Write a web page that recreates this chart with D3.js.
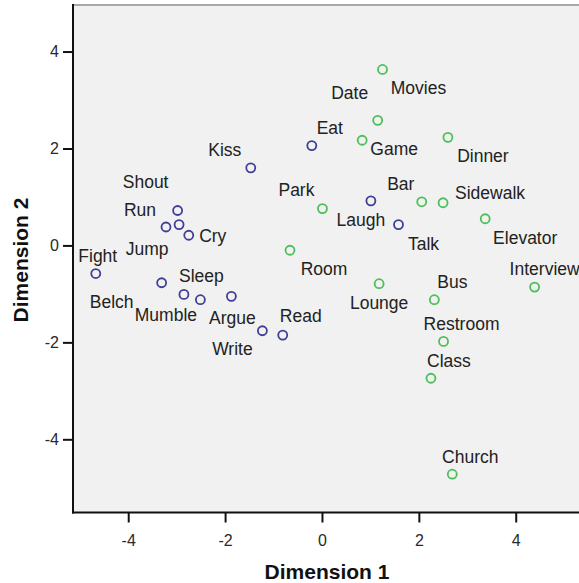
<!DOCTYPE html>
<html>
<head>
<meta charset="utf-8">
<script src="https://cdn.jsdelivr.net/npm/d3@7/dist/d3.min.js"></script>
<style>
  body { margin: 0; background: #fff; }
  svg { display: block; font-family: "Liberation Sans", Arial, sans-serif; }
</style>
</head>
<body>
<svg id="chart" width="579" height="583"></svg>
<script>
// MDS stimulus configuration, two groups of words
const actionNames = ["Kiss", "Shout", "Run", "Jump", "Cry", "Fight", "Belch", "Mumble",
  "Sleep", "Argue", "Write", "Read", "Eat", "Laugh", "Talk"];
const actionDim1 = [-1.47, -2.98, -3.22, -2.95, -2.75, -4.67, -3.31, -2.85,
  -2.51, -1.87, -1.23, -0.81, -0.21, 1.01, 1.58];
const actionDim2 = [1.60, 0.72, 0.38, 0.43, 0.21, -0.58, -0.77, -1.01,
  -1.12, -1.05, -1.76, -1.85, 2.06, 0.92, 0.43];

const placeNames = ["Movies", "Date", "Game", "Dinner", "Park", "Bar", "Sidewalk", "Elevator",
  "Room", "Lounge", "Bus", "Interview", "Restroom", "Class", "Church"];
const placeDim1 = [1.25, 1.15, 0.83, 2.60, 0.01, 2.06, 2.50, 3.37,
  -0.66, 1.18, 2.32, 4.39, 2.51, 2.25, 2.69];
const placeDim2 = [3.63, 2.58, 2.17, 2.23, 0.76, 0.90, 0.88, 0.55,
  -0.10, -0.79, -1.12, -0.86, -1.98, -2.74, -4.72];

const tickValues = [-4, -2, 0, 2, 4];

// label placement relative to each point, in pixels (like the SPSS output)
const actionLabelOffsets = [[-26, -18], [-32, -29], [-26, -17], [-32, 24], [24, 0], [2, -18],
  [-50, 19], [-18, 20], [1, -24], [1, 21], [-30, 18], [18, -19], [18, -18], [-10, 19], [25, 19]];
const placeLabelOffsets = [[36, 18], [-28, -28], [32, 8], [35, 18], [-26, -19], [-21, -18],
  [47, -10], [40, 19], [34, 18], [0, 19], [18, -18], [-25, -18], [18, -18], [18, -18], [18, -18]];

const groups = [
  { names: actionNames, d1: actionDim1, d2: actionDim2, offs: actionLabelOffsets, color: "#3f3f94" },
  { names: placeNames, d1: placeDim1, d2: placeDim2, offs: placeLabelOffsets, color: "#4cbf58" }
];

const plotLeft = 73, plotRight = 600, plotTop = 5, plotBottom = 512.5;

const x = d3.scaleLinear().domain([-5.14, 5.74]).range([plotLeft, plotRight]);
const y = d3.scaleLinear().domain([-5.51, 4.96]).range([plotBottom, plotTop]);

const svg = d3.select("#chart");

// plot background
svg.append("rect")
  .attr("x", plotLeft).attr("y", plotTop)
  .attr("width", plotRight - plotLeft).attr("height", plotBottom - plotTop)
  .attr("fill", "#f0f1f0");

// axes
const xAxis = svg.append("g")
  .attr("transform", `translate(0,${plotBottom})`)
  .call(d3.axisBottom(x).tickValues(tickValues).tickSize(10).tickPadding(12).tickFormat(d3.format("d")));
const yAxis = svg.append("g")
  .attr("transform", `translate(${plotLeft},0)`)
  .call(d3.axisLeft(y).tickValues(tickValues).tickSize(10).tickPadding(4).tickFormat(d3.format("d")));

[xAxis, yAxis].forEach(a => {
  a.select(".domain").remove();
  a.selectAll(".tick line").attr("stroke", "#111").attr("stroke-width", 2);
  a.selectAll(".tick text")
    .attr("fill", "#2a2a2a")
    .style("font-size", "16px")
    .style("font-family", "Liberation Sans, Arial, sans-serif")
    .text(d => d < 0 ? "-" + Math.abs(d) : d);
});

// frame
svg.append("line").attr("x1", plotLeft).attr("x2", 579).attr("y1", plotTop).attr("y2", plotTop)
  .attr("stroke", "#a8a8a8").attr("stroke-width", 2);
svg.append("line").attr("x1", plotLeft).attr("x2", plotLeft).attr("y1", plotTop - 1).attr("y2", plotBottom + 1)
  .attr("stroke", "#111").attr("stroke-width", 2);
svg.append("line").attr("x1", plotLeft - 1).attr("x2", 579).attr("y1", plotBottom).attr("y2", plotBottom)
  .attr("stroke", "#111").attr("stroke-width", 2);

// points and labels
groups.forEach(g => {
  const rows = g.names.map((n, i) => ({ name: n, d1: g.d1[i], d2: g.d2[i], off: g.offs[i] }));

  svg.append("g").selectAll("circle")
    .data(rows)
    .enter()
    .append("circle")
    .attr("cx", d => x(d.d1))
    .attr("cy", d => y(d.d2))
    .attr("r", 4.5)
    .attr("fill", "none")
    .attr("stroke", g.color)
    .attr("stroke-width", 1.8);

  svg.append("g").selectAll("text")
    .data(rows)
    .enter()
    .append("text")
    .attr("x", d => x(d.d1) + d.off[0])
    .attr("y", d => y(d.d2) + d.off[1])
    .attr("dy", "0.36em")
    .attr("text-anchor", d => d.name === "Interview" ? "start" : "middle")
    .attr("fill", "#222")
    .style("font-size", "17.5px")
    .text(d => d.name);
});

// axis titles
svg.append("text")
  .attr("x", 327).attr("y", 579)
  .attr("text-anchor", "middle")
  .style("font-size", "21px").style("font-weight", "bold")
  .attr("fill", "#111")
  .text("Dimension 1");
svg.append("text")
  .attr("transform", "translate(28,260) rotate(-90)")
  .attr("text-anchor", "middle")
  .style("font-size", "21px").style("font-weight", "bold")
  .attr("fill", "#111")
  .text("Dimension 2");
</script>
</body>
</html>
